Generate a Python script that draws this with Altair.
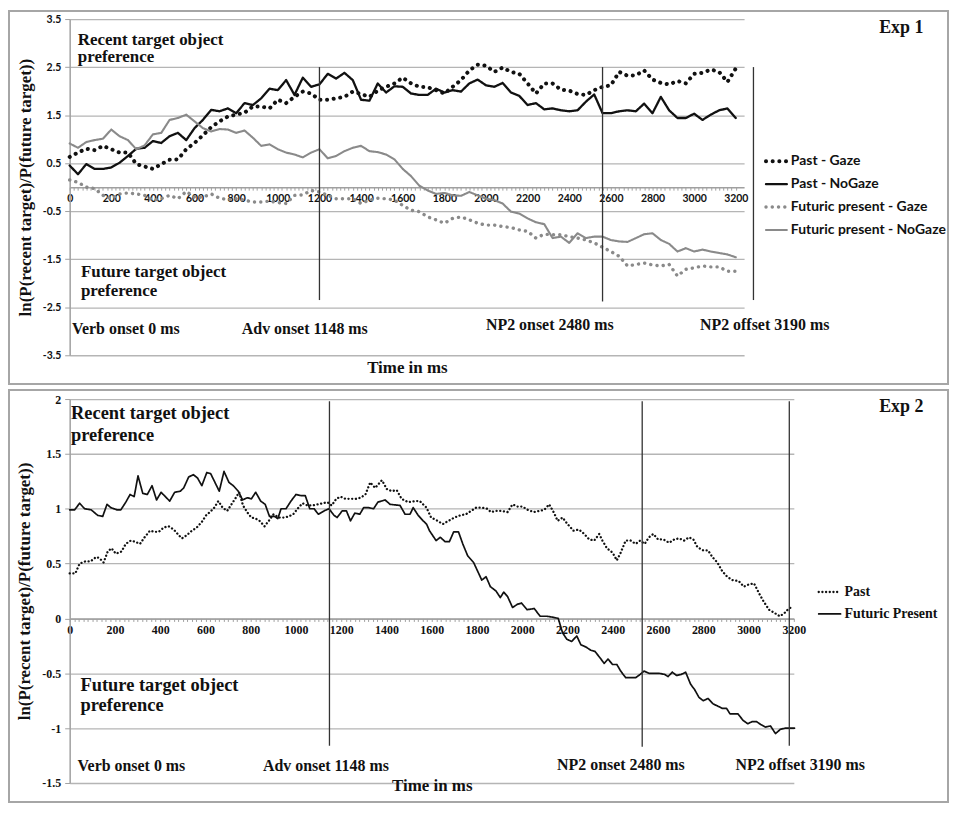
import altair as alt
import pandas as pd

# ---------------- Exp 1 (values read every 40 ms) ----------------
exp1_time = list(range(0, 3201, 40))
exp1_series = ["Past - Gaze", "Past - NoGaze", "Futuric present - Gaze", "Futuric present - NoGaze"]

past_gaze = [0.63, 0.72, 0.80, 0.77, 0.86, 0.79, 0.72, 0.72, 0.48, 0.43,
             0.38, 0.48, 0.57, 0.58, 0.79, 0.92, 1.08, 1.25, 1.37, 1.47,
             1.51, 1.55, 1.68, 1.68, 1.64, 1.82, 1.75, 1.88, 1.99, 1.95,
             1.82, 1.82, 1.85, 1.88, 1.99, 1.94, 1.88, 2.01, 2.09, 2.16,
             2.28, 2.16, 2.09, 2.08, 2.02, 1.95, 2.09, 2.23, 2.43, 2.55,
             2.53, 2.40, 2.49, 2.40, 2.36, 2.16, 1.95, 2.16, 2.16, 2.03,
             2.01, 1.94, 1.92, 2.02, 2.09, 2.12, 2.40, 2.32, 2.33, 2.43,
             2.24, 2.17, 2.14, 2.21, 2.16, 2.36, 2.38, 2.45, 2.40, 2.19,
             2.47]
past_nogaze = [0.45, 0.27, 0.48, 0.38, 0.38, 0.41, 0.51, 0.65, 0.80, 0.82,
               0.96, 0.92, 1.06, 1.13, 0.98, 1.23, 1.40, 1.61, 1.58, 1.64,
               1.54, 1.75, 1.71, 1.85, 2.05, 2.02, 2.23, 1.92, 2.28, 2.09,
               2.14, 2.36, 2.26, 2.38, 2.23, 1.82, 1.80, 2.16, 1.97, 2.10,
               2.09, 1.95, 1.92, 1.92, 2.05, 1.97, 2.02, 1.99, 2.16, 2.24,
               2.12, 2.09, 2.17, 1.97, 1.90, 1.71, 1.75, 1.62, 1.64, 1.60,
               1.58, 1.60, 1.78, 1.93, 1.54, 1.54, 1.58, 1.60, 1.58, 1.74,
               1.54, 1.88, 1.60, 1.44, 1.44, 1.53, 1.40, 1.51, 1.60, 1.64,
               1.44]
fut_gaze = [0.15, 0.10, 0.00, -0.03, -0.17, -0.24, -0.14, -0.12, -0.14, -0.17,
            -0.27, -0.24, -0.17, -0.24, -0.09, -0.21, -0.21, -0.14, -0.23, -0.26,
            -0.24, -0.27, -0.31, -0.31, -0.29, -0.32, -0.34, -0.17, -0.16, -0.07,
            -0.10, -0.17, -0.24, -0.24, -0.24, -0.34, -0.27, -0.23, -0.24, -0.27,
            -0.38, -0.48, -0.51, -0.62, -0.68, -0.75, -0.65, -0.62, -0.68, -0.75,
            -0.79, -0.79, -0.82, -0.84, -0.89, -0.92, -1.06, -0.98, -0.99, -0.99,
            -1.03, -1.06, -1.10, -1.16, -1.25, -1.34, -1.44, -1.64, -1.61, -1.58,
            -1.62, -1.64, -1.61, -1.85, -1.71, -1.68, -1.64, -1.66, -1.66, -1.75,
            -1.75]
fut_nogaze = [0.91, 0.82, 0.94, 0.98, 1.01, 1.20, 1.06, 0.98, 0.79, 0.87,
              1.10, 1.13, 1.40, 1.44, 1.51, 1.37, 1.23, 1.16, 1.21, 1.20,
              1.13, 1.18, 1.03, 0.86, 0.89, 0.79, 0.72, 0.68, 0.62, 0.72,
              0.79, 0.60, 0.65, 0.75, 0.82, 0.86, 0.75, 0.73, 0.68, 0.58,
              0.38, 0.23, 0.03, -0.07, -0.14, -0.12, -0.17, -0.18, -0.10, -0.17,
              -0.24, -0.27, -0.34, -0.51, -0.55, -0.65, -0.73, -0.77, -1.06, -1.03,
              -1.16, -0.96, -1.06, -1.03, -1.03, -1.10, -1.13, -1.14, -1.06, -0.98,
              -0.96, -1.10, -1.18, -1.34, -1.27, -1.34, -1.30, -1.34, -1.37, -1.40,
              -1.46]

# ---------------- Exp 2 (time ms, value) ----------------
exp2_series = ["Past", "Futuric Present"]
exp2_past = [(0, 0.41), (25, 0.41), (44, 0.50), (69, 0.52), (92, 0.52), (117, 0.56), (131, 0.55),
             (150, 0.51), (168, 0.61), (185, 0.64), (204, 0.59), (229, 0.61), (248, 0.68), (270, 0.71),
             (288, 0.70), (311, 0.68), (331, 0.74), (355, 0.80), (375, 0.79), (394, 0.79), (416, 0.83),
             (438, 0.84), (460, 0.81), (477, 0.77), (496, 0.73), (518, 0.76), (540, 0.80), (562, 0.83),
             (584, 0.88), (603, 0.94), (620, 0.97), (639, 1.01), (657, 1.07), (676, 1.01), (696, 0.98),
             (715, 1.04), (734, 1.10), (749, 1.15), (766, 1.03), (784, 0.97), (803, 0.92), (822, 0.91),
             (839, 0.89), (861, 0.84), (880, 0.89), (901, 0.95), (924, 0.92), (945, 0.92), (968, 0.93),
             (988, 0.95), (1007, 1.00), (1029, 1.05), (1051, 1.03), (1073, 1.03), (1095, 1.04),
             (1117, 1.05), (1139, 1.06), (1158, 1.03), (1178, 1.09), (1197, 1.11), (1219, 1.09),
             (1241, 1.09), (1263, 1.09), (1285, 1.10), (1307, 1.13), (1328, 1.24), (1350, 1.19),
             (1380, 1.26), (1401, 1.18), (1423, 1.16), (1445, 1.17), (1467, 1.09), (1496, 1.06),
             (1526, 1.07), (1547, 1.07), (1577, 1.01), (1597, 0.92), (1626, 0.89), (1649, 0.86),
             (1674, 0.89), (1700, 0.92), (1726, 0.94), (1751, 0.95), (1774, 0.98), (1796, 1.01),
             (1821, 1.01), (1844, 1.00), (1862, 0.97), (1884, 0.98), (1906, 0.98), (1935, 0.97),
             (1957, 1.04), (1979, 1.02), (2001, 1.02), (2024, 0.99), (2050, 0.97), (2075, 0.98),
             (2097, 0.99), (2119, 1.04), (2141, 0.96), (2156, 0.89), (2178, 0.92), (2200, 0.86),
             (2226, 0.80), (2251, 0.81), (2274, 0.77), (2296, 0.72), (2318, 0.71), (2340, 0.77),
             (2354, 0.71), (2374, 0.64), (2399, 0.60), (2418, 0.53), (2435, 0.60), (2457, 0.71),
             (2479, 0.71), (2501, 0.68), (2521, 0.71), (2541, 0.68), (2560, 0.74), (2579, 0.77),
             (2600, 0.72), (2624, 0.72), (2649, 0.69), (2671, 0.72), (2693, 0.73), (2715, 0.71),
             (2737, 0.74), (2756, 0.72), (2774, 0.65), (2800, 0.62), (2821, 0.62), (2840, 0.56),
             (2862, 0.51), (2884, 0.43), (2906, 0.38), (2928, 0.35), (2957, 0.34), (2979, 0.29),
             (3001, 0.31), (3024, 0.32), (3046, 0.23), (3065, 0.16), (3090, 0.08), (3115, 0.05),
             (3138, 0.02), (3159, 0.05), (3178, 0.09), (3197, 0.11)]
exp2_futuric = [(0, 0.99), (22, 0.99), (44, 1.05), (66, 1.00), (95, 0.99), (124, 0.94), (146, 0.93),
                (165, 1.04), (182, 1.01), (209, 0.99), (226, 0.99), (248, 1.06), (267, 1.13), (285, 1.11),
                (302, 1.30), (323, 1.14), (343, 1.13), (364, 1.21), (384, 1.08), (404, 1.15), (442, 1.07),
                (464, 1.15), (489, 1.16), (504, 1.19), (526, 1.29), (547, 1.31), (565, 1.28), (584, 1.21),
                (606, 1.33), (623, 1.32), (642, 1.24), (661, 1.16), (682, 1.34), (704, 1.24), (723, 1.21),
                (745, 1.16), (764, 1.08), (785, 1.10), (803, 1.09), (822, 1.15), (844, 1.07), (864, 1.04),
                (883, 0.93), (905, 0.93), (920, 0.91), (934, 1.00), (956, 1.00), (978, 1.07), (1000, 1.13),
                (1022, 1.12), (1041, 1.12), (1061, 1.00), (1080, 1.00), (1099, 0.95), (1124, 0.98),
                (1146, 1.00), (1168, 0.94), (1182, 0.92), (1204, 0.98), (1223, 0.98), (1241, 0.89),
                (1260, 0.96), (1282, 0.95), (1299, 1.01), (1321, 1.01), (1343, 1.00), (1362, 1.06),
                (1394, 1.08), (1416, 1.04), (1460, 1.03), (1482, 0.95), (1504, 0.95), (1518, 1.01),
                (1540, 0.94), (1562, 0.89), (1577, 0.86), (1590, 0.80), (1619, 0.71), (1638, 0.74),
                (1659, 0.70), (1678, 0.70), (1697, 0.79), (1718, 0.79), (1737, 0.68), (1759, 0.57),
                (1785, 0.51), (1803, 0.43), (1821, 0.35), (1840, 0.38), (1859, 0.29), (1884, 0.25),
                (1903, 0.19), (1918, 0.24), (1935, 0.20), (1957, 0.10), (1979, 0.13), (1997, 0.14),
                (2021, 0.08), (2053, 0.09), (2079, 0.02), (2109, 0.02), (2138, 0.01), (2159, 0.00),
                (2178, -0.13), (2197, -0.19), (2218, -0.21), (2241, -0.16), (2259, -0.24), (2281, -0.26),
                (2303, -0.29), (2321, -0.30), (2344, -0.36), (2362, -0.41), (2379, -0.37), (2399, -0.42),
                (2418, -0.42), (2435, -0.48), (2457, -0.54), (2482, -0.54), (2501, -0.54), (2521, -0.51),
                (2538, -0.48), (2560, -0.50), (2582, -0.50), (2604, -0.50), (2629, -0.51), (2644, -0.53),
                (2663, -0.49), (2682, -0.52), (2703, -0.51), (2722, -0.49), (2744, -0.60), (2762, -0.65),
                (2781, -0.72), (2800, -0.75), (2821, -0.73), (2844, -0.78), (2865, -0.80), (2884, -0.82),
                (2903, -0.82), (2918, -0.87), (2935, -0.87), (2953, -0.87), (2976, -0.93), (2997, -0.96),
                (3016, -0.94), (3035, -0.94), (3056, -0.97), (3075, -0.99), (3097, -0.98), (3119, -1.05),
                (3141, -1.01), (3163, -1.00), (3203, -1.00)]

# ---------------- ticks, markers, annotations ----------------
exp1_y_ticks = [3.5, 2.5, 1.5, 0.5, -0.5, -1.5, -2.5, -3.5]
exp2_y_ticks = [2, 1.5, 1, 0.5, 0, -0.5, -1, -1.5]
x_ticks = list(range(0, 3201, 20))

exp1_markers = [1200, 2560, 3285]
exp1_marker_top = [2.5, 2.5, 2.5]
exp1_marker_bottom = [-2.35, -2.38, -2.35]
exp2_markers = [1148, 2530, 3180]
exp2_marker_top = [1.98, 1.98, 1.98]
exp2_marker_bottom = [-1.16, -1.17, -1.16]

exp1_note_text = ["Recent target object", "preference", "Future target object", "preference",
                  "Verb onset 0 ms", "Adv onset 1148 ms", "NP2 onset 2480 ms", "NP2 offset 3190 ms"]
exp1_note_t = [39, 39, 54, 54, 11, 827, 2000, 3028]
exp1_note_v = [2.96, 2.60, -1.88, -2.26, -3.06, -3.06, -2.98, -2.98]
exp1_note_size = [17, 17, 17, 17, 16, 16, 16, 16]

exp2_note_text = exp1_note_text
exp2_note_t = [6, 6, 48, 48, 35, 854, 2154, 2942]
exp2_note_v = [1.82, 1.62, -0.66, -0.84, -1.39, -1.39, -1.38, -1.38]
exp2_note_size = [18.5, 18.5, 18.5, 18.5, 16, 16, 16, 16]

SERIF = "Liberation Serif"
SANS = "Lato"
INK = "#111111"
GRAY = "#8a8a8a"
AXIS_GRAY = "#a0a0a0"
Y_TITLE = "ln(P(recent target)/P(future target))"

# ---------------- data frames ----------------
df1 = pd.concat([
    pd.DataFrame({"t": exp1_time, "v": vals, "series": name})
    for name, vals in zip(exp1_series, [past_gaze, past_nogaze, fut_gaze, fut_nogaze])
], ignore_index=True)

df2 = pd.concat([
    pd.DataFrame({"t": [p[0] for p in pts], "v": [p[1] for p in pts], "series": name})
    for name, pts in zip(exp2_series, [exp2_past, exp2_futuric])
], ignore_index=True)

W1, H1 = 678, 338
W2, H2 = 728, 386


def panel(df, series, styles, x_dom, y_dom, y_ticks, y_label_font, y_label_size,
          x_label_font, x_label_size, x_offset, title_y, legend_spec, markers, m_top, m_bot,
          n_text, n_t, n_v, n_size, exp_label, frame, width, height):
    xs = alt.Scale(domain=x_dom, nice=False, zero=False)
    ys = alt.Scale(domain=y_dom, nice=False, zero=False)
    xa = alt.Axis(values=x_ticks, format="d",
                  labelExpr="datum.value % 200 === 0 ? datum.label : ''",
                  labelOverlap=False, labelFlush=False, labelFont=x_label_font,
                  labelFontWeight="bold", labelFontSize=x_label_size, labelColor=INK,
                  labelPadding=3, tickSize=3, tickColor=AXIS_GRAY, tickWidth=1,
                  domainColor=AXIS_GRAY, domainWidth=1.5, grid=False, offset=x_offset,
                  title="Time in ms", titleFont=SERIF, titleFontSize=17, titleFontWeight="bold",
                  titleColor=INK, titleY=title_y, titleBaseline="middle")
    ya = alt.Axis(values=y_ticks,
                  labelExpr="(datum.value < 0 ? '-' : '') + format(abs(datum.value), '~g')",
                  labelFont=y_label_font, labelFontWeight="bold", labelFontSize=y_label_size,
                  labelColor=INK, labelPadding=4, tickSize=5, tickColor=AXIS_GRAY,
                  domainColor=AXIS_GRAY, domainWidth=1.5, gridColor="#b5b5b5", gridWidth=1.3,
                  title=Y_TITLE, titleFont=SERIF, titleFontSize=17, titleFontWeight="bold",
                  titleColor=INK, titlePadding=8)
    x_enc = alt.X("t:Q", scale=xs, axis=xa)
    y_enc = alt.Y("v:Q", scale=ys, axis=ya)

    box = alt.Chart(pd.DataFrame({"k": [0]})).mark_rect(
        fill="white", fillOpacity=0, stroke="#a6a6a6", strokeWidth=2
    ).encode(x=alt.value(frame[0]), x2=alt.value(frame[1]),
             y=alt.value(frame[2]), y2=alt.value(frame[3]))

    line_layers = []
    leg_layers = []
    leg_font, leg_size, leg_x0, leg_x1, leg_y0, leg_step = legend_spec
    for name, (color, width_, dash) in zip(series, styles):
        sub = df[df["series"] == name]
        line_layers.append(
            alt.Chart(sub).mark_line(color=color, strokeWidth=width_, strokeDash=dash,
                                     strokeCap="round", strokeJoin="round").encode(x=x_enc, y=y_enc))
    main = alt.layer(box, *line_layers)

    rules = alt.Chart(pd.DataFrame({"t": markers, "v": m_top, "v2": m_bot})).mark_rule(
        color="#333333", strokeWidth=1.3).encode(x=x_enc, y=y_enc, y2="v2:Q")

    notes = alt.Chart(pd.DataFrame({"label": n_text, "t": n_t, "v": n_v, "fs": n_size})).mark_text(
        align="left", baseline="alphabetic", font=SERIF, fontWeight="bold", color=INK
    ).encode(x=x_enc, y=y_enc, text="label:N", size=alt.Size("fs:Q", scale=None, legend=None))

    exp_txt = alt.Chart(pd.DataFrame({"label": [exp_label]})).mark_text(
        align="center", baseline="alphabetic", font=SERIF, fontWeight="bold", fontSize=18, color=INK
    ).encode(x=alt.value(frame[1] - 47), y=alt.value(frame[2] + 22), text="label:N")

    # hand-built legend: one row per series, rows placed by a point scale
    leg_df = pd.DataFrame({"series": series})
    ly = alt.Y("series:N", axis=None,
               scale=alt.Scale(type="point", domain=series, padding=0,
                               range=[leg_y0, leg_y0 + leg_step * (len(series) - 1)]))
    for name, (color, width_, dash) in zip(series, styles):
        leg_layers.append(
            alt.Chart(leg_df[leg_df["series"] == name]).mark_rule(
                color=color, strokeWidth=width_, strokeDash=dash, strokeCap="round"
            ).encode(x=alt.value(leg_x0), x2=alt.value(leg_x1), y=ly))
    leg_text = alt.Chart(leg_df).mark_text(
        align="left", baseline="middle", font=leg_font, fontWeight="bold", fontSize=leg_size, color=INK
    ).encode(x=alt.value(leg_x1 + 4), y=ly, text="series:N")

    inner = alt.layer(main, rules, notes, exp_txt)
    return alt.layer(inner, *leg_layers, leg_text).resolve_scale(y="independent").properties(
        width=width, height=height)


exp1_styles = [(INK, 4.0, [0.1, 6.6]), (INK, 2.3, [1, 0]),
               (GRAY, 3.4, [0.1, 6.2]), (GRAY, 2.1, [1, 0])]
exp2_styles = [(INK, 2.3, [0.1, 3.6]), (INK, 1.7, [1, 0])]

top = panel(df1, exp1_series, exp1_styles,
            [0, 3240], [-3.5, 3.5], exp1_y_ticks, SANS, 10.5, SANS, 10.5,
            -H1 / 2, 181, (SANS, 14, 700, 721, 143, 23), exp1_markers, exp1_marker_top,
            exp1_marker_bottom, exp1_note_text, exp1_note_t, exp1_note_v, exp1_note_size, "Exp 1",
            (-61, 883, -8, 367), W1, H1)

zero2 = H2 * 2 / 3.5
bottom = panel(df2, exp2_series, exp2_styles,
               [0, 3200], [-1.5, 2], exp2_y_ticks, SERIF, 12, SERIF, 12,
               -(H2 - zero2), 168, (SERIF, 14, 753, 775, 194, 22), exp2_markers, exp2_marker_top,
               exp2_marker_bottom, exp2_note_text, exp2_note_t, exp2_note_v, exp2_note_size, "Exp 2",
               (-61, 883, -9, 405), W2, H2)

chart = alt.vconcat(top, bottom, spacing=4).properties(
    padding=0, background="white"
).configure_view(strokeWidth=0)

chart.save("out.html", embed_options={"renderer": "svg", "actions": False})
